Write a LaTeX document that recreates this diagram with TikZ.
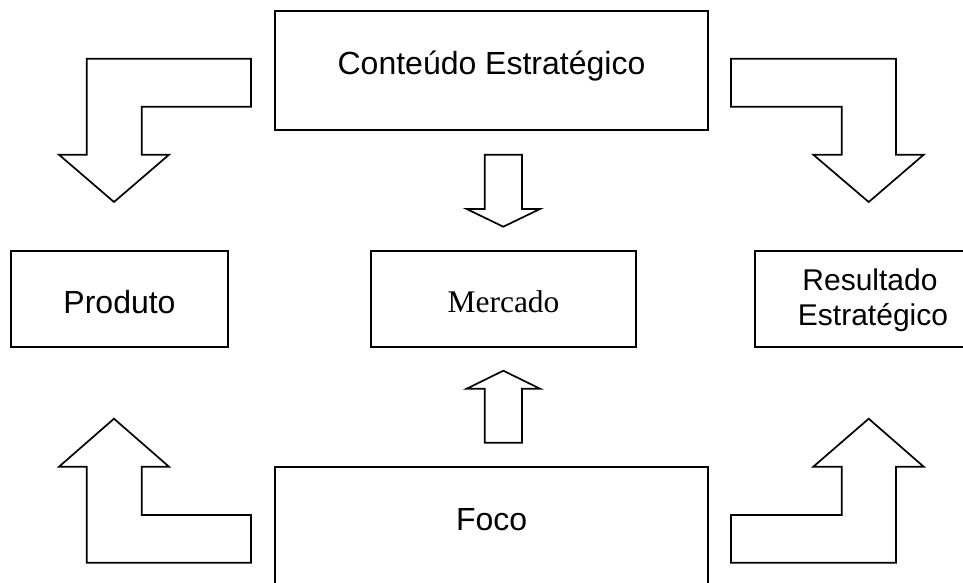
\documentclass[tikz,border=0pt]{standalone}
\usepackage{fontspec}
\setmainfont{Liberation Sans}
\newfontfamily\timesfont{Liberation Serif}
\begin{document}
\begin{tikzpicture}[x=1pt,y=-1pt,
  box/.style={draw=black, line width=1.9pt, fill=white, inner sep=0pt},
  blockarrow/.style={draw=black, line width=1.7pt, fill=white, line join=miter},
  txt/.style={inner sep=0pt, anchor=base, font=\fontsize{32}{38}\selectfont},
  txtsmall/.style={inner sep=0pt, anchor=base, font=\fontsize{30}{35}\selectfont}]
\clip (0,0) rectangle (963,582);
\fill[white] (0,0) rectangle (963,582);
% boxes
\node[box, minimum width=433pt, minimum height=119pt] (cont) at (491.5,70.5) {};
\node[txt] (conttxt) at (491.5,74) {Conteúdo Estratégico};
\node[box, minimum width=217pt, minimum height=96pt] (prod) at (119.5,298.7) {};
\node[txt] (prodtxt) at (119.5,313.3) {Produto};
\node[box, minimum width=264.7pt, minimum height=96pt] (merc) at (503.3,298.7) {};
\node[txt, font=\timesfont\fontsize{31.5}{38}\selectfont] (merctxt) at (503.5,312.7) {Mercado};
\node[box, minimum width=220pt, minimum height=96pt] (res) at (865.3,298.7) {};
\node[txtsmall] (restxt1) at (870,290) {Resultado};
\node[txtsmall] (restxt2) at (873,325) {Estratégico};
\node[box, minimum width=433pt, minimum height=140pt] (foco) at (491.5,536.7) {};
\node[txt] (focotxt) at (491.7,530) {Foco};
% top-left bent arrow
\draw[blockarrow] (86.7,58.7) -- (251,58.7) -- (251,106.7) -- (141.7,106.7) -- (141.7,154.7)
  -- (169,154.7) -- (114,202) -- (59,154.7) -- (86.7,154.7) -- cycle;
% top-right bent arrow
\draw[blockarrow] (896,58.7) -- (731,58.7) -- (731,106.7) -- (841.7,106.7) -- (841.7,154.7)
  -- (813.3,154.7) -- (868.7,202) -- (923.7,154.7) -- (896,154.7) -- cycle;
% centre down arrow
\draw[blockarrow] (484.7,154.7) -- (522,154.7) -- (522,209) -- (540,209) -- (503.3,226.7)
  -- (466.7,209) -- (484.7,209) -- cycle;
% centre up arrow
\draw[blockarrow] (484.7,442.7) -- (522,442.7) -- (522,388.7) -- (540,388.7) -- (503.3,370.7)
  -- (466.7,388.7) -- (484.7,388.7) -- cycle;
% bottom-left bent arrow
\draw[blockarrow] (86.7,562.7) -- (251,562.7) -- (251,515) -- (141.7,515) -- (141.7,466.7)
  -- (169,466.7) -- (114,418.7) -- (59,466.7) -- (86.7,466.7) -- cycle;
% bottom-right bent arrow
\draw[blockarrow] (896,562.7) -- (731,562.7) -- (731,515) -- (841.7,515) -- (841.7,466.7)
  -- (813.3,466.7) -- (868.7,418.7) -- (923.7,466.7) -- (896,466.7) -- cycle;
\end{tikzpicture}
\end{document}
